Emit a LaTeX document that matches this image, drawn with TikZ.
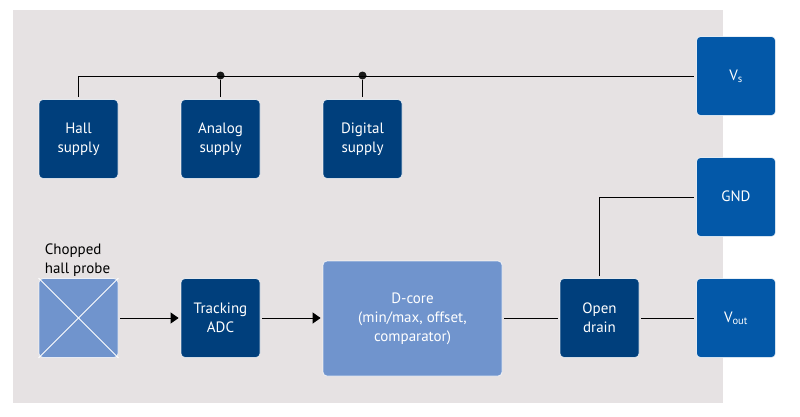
\documentclass[tikz,border=0pt]{standalone}
\usepackage{fontspec}
\setmainfont{PT Sans}
\usetikzlibrary{arrows.meta}
\definecolor{panelc}{HTML}{E6E2E3}
\definecolor{darkb}{HTML}{003F7C}
\definecolor{midb}{HTML}{0358A8}
\definecolor{lightb}{HTML}{7094CD}
\tikzset{
  box/.style={rounded corners=4pt,inner sep=0pt,align=center,text=white,
    font=\fontsize{15}{19}\selectfont,draw=white,draw opacity=.75,line width=.8pt,
    minimum width=79pt,minimum height=79pt},
  darkbox/.style={box,fill=darkb},
  pinbox/.style={box,fill=midb,font=\fontsize{15}{19}\selectfont},
  lightbox/.style={box,fill=lightb},
  wire/.style={black,line width=1pt,shorten >=2pt,shorten <=2pt},
  wirea/.style={wire,-{Triangle[length=8pt,width=11pt]}},
  junc/.style={circle,fill=black!90,inner sep=0pt,minimum size=8pt},
  cross/.style={white,line width=1pt}
}
\begin{document}
\begin{tikzpicture}[x=1pt,y=-1pt]
\useasboundingbox (0,0) rectangle (800,416);
\fill[white] (0,0) rectangle (800,416);
\fill[panelc] (12.5,10) rectangle (723,403);
\node[darkbox] (hall) at (78.5,139) {Hall\\supply};
\node[darkbox] (analog) at (220.5,139) {Analog\\supply};
\node[darkbox] (digital) at (362.5,139) {Digital\\supply};
\node[pinbox] (vs) at (736,76) {V\textsubscript{s}};
\node[pinbox] (gnd) at (736,197) {\raisebox{1.5pt}{GND}};
\node[pinbox] (vout) at (736,318) {V\textsubscript{out}};
\node[lightbox] (probe) at (78.5,318) {};
\node[darkbox] (adc) at (220.5,318) {Tracking\\ADC};
\node[lightbox,minimum width=179pt,minimum height=115pt] (dcore) at (412.5,318.5) {D-core\\(min/max, offset,\\comparator)};
\node[darkbox] (open) at (599.5,318) {Open\\drain};
\node[align=left,inner sep=0pt,font=\fontsize{15}{19}\selectfont] (lab) at (77.5,260) {Chopped\\hall probe};
\node[junc] (j1) at (220.5,75.5) {};
\node[junc] (j2) at (362.5,75.5) {};
\draw[cross] (probe.north west) -- (probe.south east);
\draw[cross] (probe.north east) -- (probe.south west);
\draw[wire] (hall.north) |- (vs.west);
\draw[wire,shorten >=0pt] (analog.north) -- (j1);
\draw[wire,shorten >=0pt] (digital.north) -- (j2);
\draw[wire] (open.north) |- (gnd.west);
\draw[wire] (dcore.east |- open.west) -- (open.west);
\draw[wire] (open.east) -- (vout.west);
\draw[wirea] (probe.east) -- (adc.west);
\draw[wirea] (adc.east) -- (dcore.west |- adc.east);
\end{tikzpicture}
\end{document}
